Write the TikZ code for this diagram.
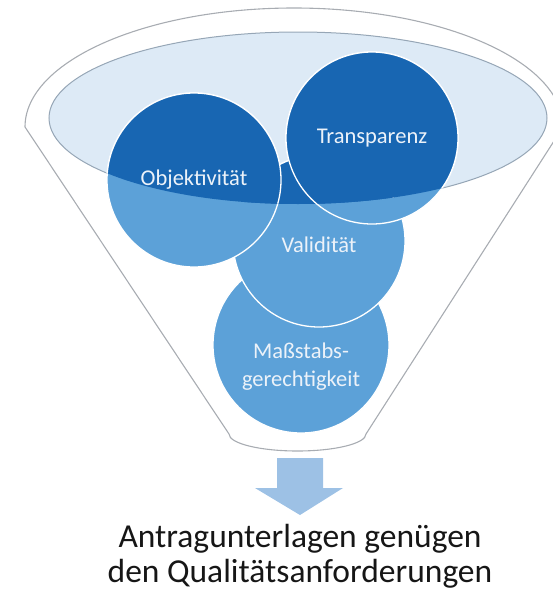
\documentclass[tikz,border=0pt]{standalone}
\usepackage{fontspec}
\setmainfont{Carlito}
\definecolor{bubbledark}{RGB}{24,102,178}
\definecolor{bubblelite}{RGB}{92,161,216}
\definecolor{surface}{RGB}{221,234,246}
\definecolor{surfaceline}{RGB}{150,166,182}
\definecolor{funnelline}{RGB}{168,172,178}
\definecolor{arrowblue}{RGB}{157,193,229}
\definecolor{bubbletext}{RGB}{236,242,249}
\definecolor{captiontext}{RGB}{22,22,22}
\begin{document}
\begin{tikzpicture}[x=1pt,y=-1pt,
  bubble/.style={circle, draw=white, line width=1.3pt, inner sep=0pt},
  bubblelabel/.style={text=bubbletext, align=center, font=\fontsize{22.5}{28}\selectfont},
  caption/.style={text=captiontext, align=center, inner sep=0pt, font=\fontsize{33.5}{35}\selectfont},
  blockarrow/.style={fill=arrowblue, draw=none}]
\useasboundingbox (0,0) rectangle (553,589);
\clip (0,0) rectangle (553,589);

% funnel outline: upper rim arc, two sides, rounded spout
\draw[funnelline, line width=1.1pt, line join=round]
  (25,127) arc[start angle=180, end angle=0, x radius=269pt, y radius=119pt]
  -- (366,434) arc[start angle=0, end angle=-180, x radius=68.5pt, y radius=17pt]
  -- cycle;

% liquid surface
\fill[surface] (298,118) ellipse (249pt and 86pt);
\draw[surfaceline, line width=1pt] (298,118) ellipse (249pt and 86pt);

% criteria bubbles, lower layer first
\node[bubble, fill=bubblelite, minimum size=176pt] (mass) at (301,345) {};
\node[bubble, fill=bubblelite, minimum size=172pt] (vali) at (319,241) {};
\node[bubble, fill=bubblelite, minimum size=174pt] (obje) at (194,180) {};
\node[bubble, fill=bubblelite, minimum size=172pt] (tran) at (372,138) {};

% the parts of the bubbles below the surface appear darker
\begin{scope}
  \clip (298,118) ellipse (249pt and 86pt);
  \filldraw[bubbledark, draw=white, line width=1.3pt] (vali.center) circle (86pt);
  \filldraw[bubbledark, draw=white, line width=1.3pt] (obje.center) circle (87pt);
  \filldraw[bubbledark, draw=white, line width=1.3pt] (tran.center) circle (86pt);
\end{scope}

% labels
\node[bubblelabel] (tobje) at (obje.center) {Objektivität};
\node[bubblelabel] (ttran) at (tran.center) {Transparenz};
\node[bubblelabel] (tvali) at ([yshift=-4pt]vali.center) {Validität};
\node[bubblelabel] (tmass) at ([yshift=-22pt]mass.center) {Maßstabs-\\gerechtigkeit};

% output arrow
\coordinate (tip) at (300,515);
\fill[blockarrow] (277,458) -- (323,458) -- (323,488) -- (343,488) -- (tip)
  -- (255,488) -- (277,488) -- cycle;

% result
\node[caption, anchor=south] (result) at (300,588)
  {Antragunterlagen genügen\\den Qualitätsanforderungen};
\end{tikzpicture}
\end{document}
